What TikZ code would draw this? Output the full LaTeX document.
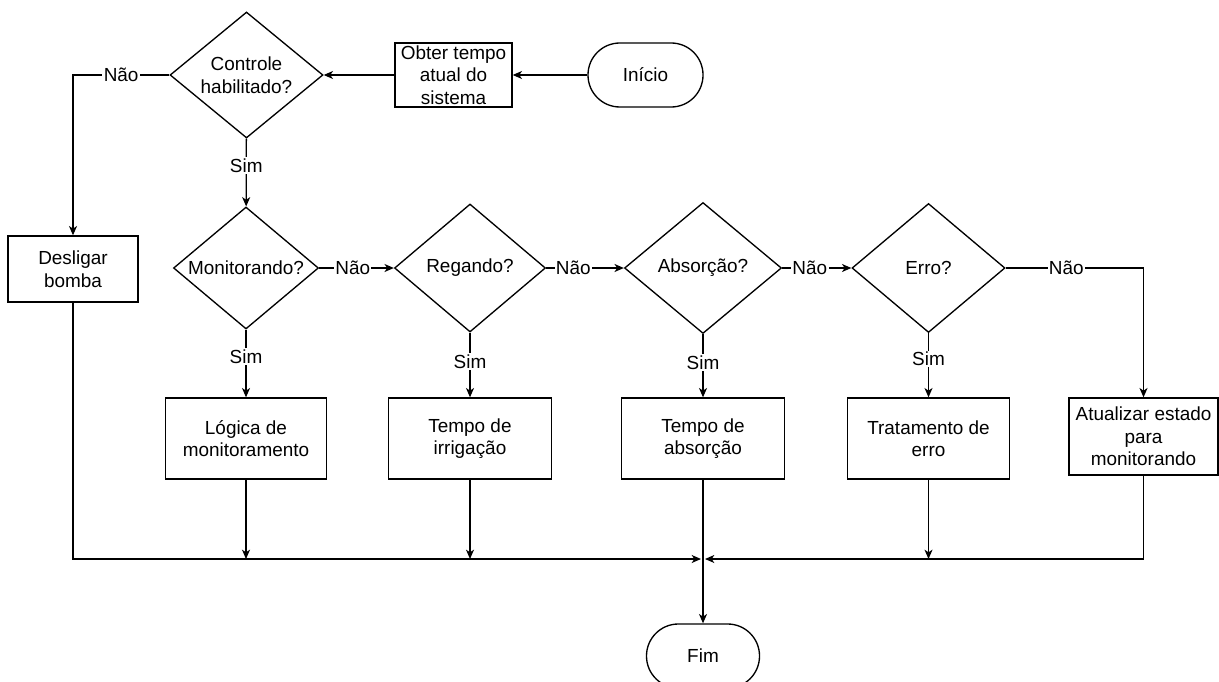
\documentclass[tikz,border=0pt]{standalone}
\usepackage{fontspec}
\setmainfont{Liberation Sans}
\usetikzlibrary{shapes.geometric,arrows.meta}

\begin{document}
\begin{tikzpicture}[x=0.75pt,y=-0.75pt,
    line width=1pt,
    font=\fontsize{14.2}{16.9}\selectfont,
    caixa/.style={draw, rectangle, align=center, inner sep=0pt},
    decisao/.style={draw, diamond, aspect=1.2, align=center, inner sep=0pt},
    terminal/.style={draw, rectangle, rounded corners=23.9pt, minimum height=48pt},
    seta/.style={-{Stealth[length=7pt,width=6pt,inset=2pt]}},
    rotulo/.style={fill=white, inner sep=1pt}]

    \useasboundingbox (0,0) rectangle (1219,681);

    % topo
    \node[terminal, minimum width=86.25pt] (inicio) at (645.5,75) {Início};
    \node[caixa, minimum width=87.75pt, minimum height=48pt] (obter) at (453.5,75) {Obter tempo\\atual do\\sistema};
    \node[decisao, minimum width=114.75pt, minimum height=94.5pt] (controle) at (246.5,75) {Controle\\habilitado?};
    \node[caixa, minimum width=97.5pt, minimum height=49.5pt] (desligar) at (73,269) {Desligar\\bomba};

    % decisoes
    \node[decisao, minimum width=108.75pt, minimum height=91.5pt] (monit) at (246,268) {Monitorando?};
    \node[decisao, minimum width=113.25pt, minimum height=96pt] (regando) at (470,268) {Regando?};
    \node[decisao, minimum width=117.75pt, minimum height=98.25pt] (absorc) at (703,268) {Absorção?};
    \node[decisao, minimum width=114.75pt, minimum height=96.75pt] (erro) at (928.5,268) {Erro?};

    % acoes
    \node[caixa, minimum width=120.75pt, minimum height=60.75pt] (logica) at (246,438.5) {Lógica de\\monitoramento};
    \node[caixa, minimum width=122.25pt, minimum height=60.75pt] (irrig) at (470,438.5) {Tempo de\\irrigação};
    \node[caixa, minimum width=122.25pt, minimum height=60.75pt] (tabs) at (703,438.5) {Tempo de\\absorção};
    \node[caixa, minimum width=121.5pt, minimum height=60.75pt] (trat) at (928.5,438.5) {Tratamento de\\erro};
    \node[caixa, minimum width=111.75pt, minimum height=57.75pt] (atual) at (1143.5,436.5) {Atualizar estado\\para\\monitorando};

    \node[terminal, minimum width=84.75pt] (fim) at (703,656) {Fim};
    \coordinate (junc) at (703,559);

    % ligacoes
    \draw[seta] (inicio) -- (obter);
    \draw[seta] (obter) -- (controle);
    \draw[seta] (controle.west) -| node[rotulo, pos=0.25] {Não} (desligar.north);
    \draw[seta] (controle) -- node[rotulo, pos=0.4] {Sim} (monit);

    \draw[seta] (monit) -- node[rotulo, pos=0.45] {Não} (regando);
    \draw[seta] (regando) -- node[rotulo, pos=0.35] {Não} (absorc);
    \draw[seta] (absorc) -- node[rotulo, pos=0.4] {Não} (erro);
    \draw[seta] (erro.east) -| node[rotulo, pos=0.22] {Não} (atual.north);

    \draw[seta] (monit) -- node[rotulo, pos=0.4] {Sim} (logica);
    \draw[seta] (regando) -- node[rotulo, pos=0.45] {Sim} (irrig);
    \draw[seta] (absorc) -- node[rotulo, pos=0.45] {Sim} (tabs);
    \draw[seta] (erro) -- node[rotulo, pos=0.4] {Sim} (trat);

    % juncao final
    \draw[seta, shorten >=1.5pt] (desligar.south) |- (junc);
    \draw[seta, shorten >=1.5pt] (atual.south) |- (junc);
    \draw[seta] (logica) -- (logica |- junc);
    \draw[seta] (irrig) -- (irrig |- junc);
    \draw[seta] (trat) -- (trat |- junc);
    \draw[seta] (tabs) -- (fim);
\end{tikzpicture}
\end{document}
